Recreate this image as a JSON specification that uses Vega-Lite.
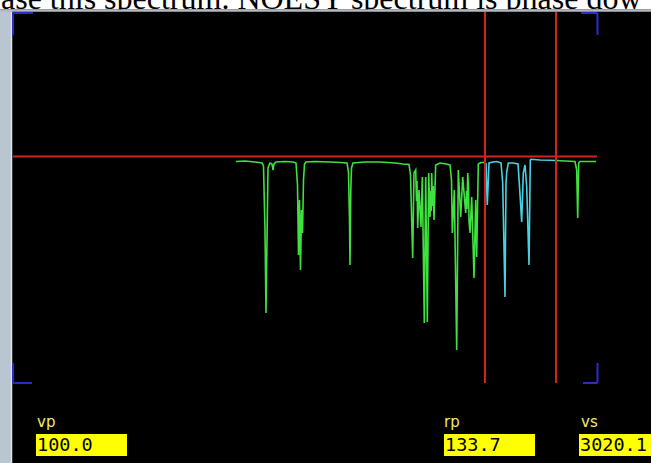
{
  "$schema": "https://vega.github.io/schema/vega-lite/v6.json",
  "width": 651,
  "height": 463,
  "autosize": {"type": "none"},
  "padding": 0,
  "background": "#000000",
  "config": {"view": {"stroke": null}, "axis": {"disable": true}},
  "datasets": {
    "caption": [{"text": "ase this spectrum. NOESY spectrum is phase dow"}],
    "spectrum": [
      {"ppm": 8.300, "intensity": -0.5, "segment": "a", "region": "full"},
      {"ppm": 8.120, "intensity": 0, "segment": "a", "region": "full"},
      {"ppm": 7.920, "intensity": -1, "segment": "a", "region": "full"},
      {"ppm": 7.780, "intensity": -2, "segment": "a", "region": "full"},
      {"ppm": 7.750, "intensity": -5, "segment": "a", "region": "full"},
      {"ppm": 7.720, "intensity": -69, "segment": "a", "region": "full"},
      {"ppm": 7.700, "intensity": -152, "segment": "a", "region": "full"},
      {"ppm": 7.680, "intensity": -79, "segment": "a", "region": "full"},
      {"ppm": 7.660, "intensity": -7, "segment": "a", "region": "full"},
      {"ppm": 7.620, "intensity": -2, "segment": "a", "region": "full"},
      {"ppm": 7.580, "intensity": -3, "segment": "a", "region": "full"},
      {"ppm": 7.560, "intensity": -9, "segment": "a", "region": "full"},
      {"ppm": 7.540, "intensity": -3, "segment": "a", "region": "full"},
      {"ppm": 7.500, "intensity": -1, "segment": "a", "region": "full"},
      {"ppm": 7.320, "intensity": -0.5, "segment": "a", "region": "full"},
      {"ppm": 7.160, "intensity": -1, "segment": "a", "region": "full"},
      {"ppm": 7.100, "intensity": -2, "segment": "a", "region": "full"},
      {"ppm": 7.070, "intensity": -24, "segment": "a", "region": "full"},
      {"ppm": 7.050, "intensity": -94, "segment": "a", "region": "full"},
      {"ppm": 7.030, "intensity": -39, "segment": "a", "region": "full"},
      {"ppm": 7.010, "intensity": -109, "segment": "a", "region": "full"},
      {"ppm": 6.990, "intensity": -49, "segment": "a", "region": "full"},
      {"ppm": 6.970, "intensity": -72, "segment": "a", "region": "full"},
      {"ppm": 6.950, "intensity": -19, "segment": "a", "region": "full"},
      {"ppm": 6.930, "intensity": -3, "segment": "a", "region": "full"},
      {"ppm": 6.900, "intensity": -1, "segment": "a", "region": "full"},
      {"ppm": 6.720, "intensity": -0.5, "segment": "a", "region": "full"},
      {"ppm": 6.420, "intensity": -1, "segment": "a", "region": "full"},
      {"ppm": 6.220, "intensity": -1.5, "segment": "a", "region": "full"},
      {"ppm": 6.080, "intensity": -2, "segment": "a", "region": "full"},
      {"ppm": 6.050, "intensity": -11, "segment": "a", "region": "full"},
      {"ppm": 6.030, "intensity": -59, "segment": "a", "region": "full"},
      {"ppm": 6.020, "intensity": -104, "segment": "a", "region": "full"},
      {"ppm": 6.004, "intensity": -29, "segment": "a", "region": "full"},
      {"ppm": 5.990, "intensity": -7, "segment": "a", "region": "full"},
      {"ppm": 5.960, "intensity": -2, "segment": "a", "region": "full"},
      {"ppm": 5.720, "intensity": -1, "segment": "a", "region": "full"},
      {"ppm": 5.420, "intensity": -1, "segment": "a", "region": "full"},
      {"ppm": 5.120, "intensity": -2, "segment": "a", "region": "full"},
      {"ppm": 4.960, "intensity": -3, "segment": "a", "region": "full"},
      {"ppm": 4.840, "intensity": -3.5, "segment": "a", "region": "full"},
      {"ppm": 4.810, "intensity": -14, "segment": "a", "region": "full"},
      {"ppm": 4.766, "intensity": -97, "segment": "a", "region": "full"},
      {"ppm": 4.740, "intensity": -12, "segment": "a", "region": "full"},
      {"ppm": 4.706, "intensity": -9, "segment": "a", "region": "full"},
      {"ppm": 4.690, "intensity": -40, "segment": "a", "region": "full"},
      {"ppm": 4.680, "intensity": -20, "segment": "a", "region": "full"},
      {"ppm": 4.666, "intensity": -67, "segment": "a", "region": "full"},
      {"ppm": 4.640, "intensity": -29, "segment": "a", "region": "full"},
      {"ppm": 4.600, "intensity": -66, "segment": "a", "region": "full"},
      {"ppm": 4.574, "intensity": -16, "segment": "a", "region": "full"},
      {"ppm": 4.534, "intensity": -162, "segment": "a", "region": "full"},
      {"ppm": 4.506, "intensity": -16, "segment": "a", "region": "full"},
      {"ppm": 4.474, "intensity": -161, "segment": "a", "region": "full"},
      {"ppm": 4.446, "intensity": -12, "segment": "a", "region": "full"},
      {"ppm": 4.420, "intensity": -56, "segment": "a", "region": "full"},
      {"ppm": 4.405, "intensity": -30, "segment": "a", "region": "full"},
      {"ppm": 4.395, "intensity": -50, "segment": "a", "region": "full"},
      {"ppm": 4.386, "intensity": -12, "segment": "a", "region": "full"},
      {"ppm": 4.370, "intensity": -45, "segment": "a", "region": "full"},
      {"ppm": 4.356, "intensity": -25, "segment": "a", "region": "full"},
      {"ppm": 4.340, "intensity": -59, "segment": "a", "region": "full"},
      {"ppm": 4.306, "intensity": -4, "segment": "a", "region": "full"},
      {"ppm": 4.220, "intensity": -2, "segment": "a", "region": "full"},
      {"ppm": 4.100, "intensity": -3, "segment": "a", "region": "full"},
      {"ppm": 4.020, "intensity": -4, "segment": "a", "region": "full"},
      {"ppm": 3.990, "intensity": -19, "segment": "a", "region": "full"},
      {"ppm": 3.974, "intensity": -72, "segment": "a", "region": "full"},
      {"ppm": 3.934, "intensity": -29, "segment": "a", "region": "full"},
      {"ppm": 3.886, "intensity": -189, "segment": "a", "region": "full"},
      {"ppm": 3.854, "intensity": -9, "segment": "a", "region": "full"},
      {"ppm": 3.806, "intensity": -56, "segment": "a", "region": "full"},
      {"ppm": 3.766, "intensity": -16, "segment": "a", "region": "full"},
      {"ppm": 3.706, "intensity": -52, "segment": "a", "region": "full"},
      {"ppm": 3.690, "intensity": -30, "segment": "a", "region": "full"},
      {"ppm": 3.680, "intensity": -48, "segment": "a", "region": "full"},
      {"ppm": 3.666, "intensity": -12, "segment": "a", "region": "full"},
      {"ppm": 3.650, "intensity": -25, "segment": "a", "region": "full"},
      {"ppm": 3.640, "intensity": -60, "segment": "a", "region": "full"},
      {"ppm": 3.620, "intensity": -72, "segment": "a", "region": "full"},
      {"ppm": 3.586, "intensity": -36, "segment": "a", "region": "full"},
      {"ppm": 3.540, "intensity": -117, "segment": "a", "region": "full"},
      {"ppm": 3.506, "intensity": -39, "segment": "a", "region": "full"},
      {"ppm": 3.486, "intensity": -96, "segment": "a", "region": "full"},
      {"ppm": 3.454, "intensity": -3, "segment": "a", "region": "full"},
      {"ppm": 3.400, "intensity": -1.5, "segment": "a", "region": "full"},
      {"ppm": 3.340, "intensity": -1.5, "segment": "a", "region": "full"},
      {"ppm": 3.300, "intensity": -2, "segment": "a", "region": "full"},
      {"ppm": 3.300, "intensity": -2, "segment": "b", "region": "selected"},
      {"ppm": 3.274, "intensity": -44, "segment": "b", "region": "selected"},
      {"ppm": 3.240, "intensity": -2, "segment": "b", "region": "selected"},
      {"ppm": 3.160, "intensity": -1, "segment": "b", "region": "selected"},
      {"ppm": 3.080, "intensity": -0.5, "segment": "b", "region": "selected"},
      {"ppm": 3.000, "intensity": -2, "segment": "b", "region": "selected"},
      {"ppm": 2.966, "intensity": -22, "segment": "b", "region": "selected"},
      {"ppm": 2.920, "intensity": -136, "segment": "b", "region": "selected"},
      {"ppm": 2.900, "intensity": -22, "segment": "b", "region": "selected"},
      {"ppm": 2.886, "intensity": -11, "segment": "b", "region": "selected"},
      {"ppm": 2.854, "intensity": -2, "segment": "b", "region": "selected"},
      {"ppm": 2.760, "intensity": -2, "segment": "b", "region": "selected"},
      {"ppm": 2.660, "intensity": -3, "segment": "b", "region": "selected"},
      {"ppm": 2.634, "intensity": -22, "segment": "b", "region": "selected"},
      {"ppm": 2.586, "intensity": -61, "segment": "b", "region": "selected"},
      {"ppm": 2.554, "intensity": -12, "segment": "b", "region": "selected"},
      {"ppm": 2.520, "intensity": -4, "segment": "b", "region": "selected"},
      {"ppm": 2.486, "intensity": -26, "segment": "b", "region": "selected"},
      {"ppm": 2.440, "intensity": -104, "segment": "b", "region": "selected"},
      {"ppm": 2.414, "intensity": 1, "segment": "b", "region": "selected"},
      {"ppm": 2.400, "intensity": 1.7, "segment": "b", "region": "selected"},
      {"ppm": 2.220, "intensity": 1, "segment": "b", "region": "selected"},
      {"ppm": 2.020, "intensity": 0.7, "segment": "b", "region": "selected"},
      {"ppm": 1.900, "intensity": 0.5, "segment": "b", "region": "selected"},
      {"ppm": 1.900, "intensity": 0.5, "segment": "c", "region": "full"},
      {"ppm": 1.720, "intensity": 0, "segment": "c", "region": "full"},
      {"ppm": 1.520, "intensity": -0.5, "segment": "c", "region": "full"},
      {"ppm": 1.486, "intensity": -9, "segment": "c", "region": "full"},
      {"ppm": 1.466, "intensity": -57, "segment": "c", "region": "full"},
      {"ppm": 1.446, "intensity": -2, "segment": "c", "region": "full"},
      {"ppm": 1.420, "intensity": -0.5, "segment": "c", "region": "full"},
      {"ppm": 1.220, "intensity": -0.5, "segment": "c", "region": "full"},
      {"ppm": 1.100, "intensity": -0.5, "segment": "c", "region": "full"}
    ],
    "threshold": [{"th": 4.5}],
    "cursors": [{"ppm": 3.32}, {"ppm": 1.90}],
    "parameters": [
      {"name": "vp", "value": "100.0"},
      {"name": "rp", "value": "133.7"},
      {"name": "vs", "value": "3020.1"}
    ]
  },
  "layer": [
    {
      "data": {"values": [{}]},
      "mark": {"type": "rect", "color": "#b9c6d2"},
      "encoding": {
        "x": {"datum": 13.02, "type": "quantitative", "axis": null, "scale": {"domain": [0, 13.02], "reverse": true, "nice": false, "zero": false}},
        "x2": {"datum": 12.80},
        "y": {"datum": 151, "type": "quantitative", "axis": null, "scale": {"domain": [-302, 161], "nice": false, "zero": false}},
        "y2": {"datum": -302}
      }
    },
    {
      "data": {"values": [{}]},
      "mark": {"type": "rule", "color": "#e2e7eb", "strokeWidth": 1.5},
      "encoding": {
        "x": {"datum": 12.79, "type": "quantitative", "axis": null, "scale": {"domain": [0, 13.02], "reverse": true, "nice": false, "zero": false}},
        "y": {"datum": 151, "type": "quantitative", "axis": null, "scale": {"domain": [-302, 161], "nice": false, "zero": false}},
        "y2": {"datum": -302}
      }
    },
    {
      "data": {"values": [{}]},
      "mark": {"type": "rect", "color": "#ffffff"},
      "encoding": {
        "x": {"datum": 13.02, "type": "quantitative", "axis": null, "scale": {"domain": [0, 13.02], "reverse": true, "nice": false, "zero": false}},
        "x2": {"datum": 0},
        "y": {"datum": 161, "type": "quantitative", "axis": null, "scale": {"domain": [-302, 161], "nice": false, "zero": false}},
        "y2": {"datum": 151.5}
      }
    },
    {
      "data": {"name": "caption"},
      "mark": {"type": "text", "align": "left", "baseline": "alphabetic", "font": "Liberation Serif", "fontSize": 32, "color": "#000000", "clip": true},
      "encoding": {
        "x": {"datum": 13.0, "type": "quantitative", "axis": null, "scale": {"domain": [0, 13.02], "reverse": true, "nice": false, "zero": false}},
        "y": {"datum": 152.5, "type": "quantitative", "axis": null, "scale": {"domain": [-302, 161], "nice": false, "zero": false}},
        "text": {"field": "text"}
      }
    },
    {
      "data": {"values": [{}]},
      "mark": {"type": "rect", "color": "#b2bac2"},
      "encoding": {
        "x": {"datum": 13.02, "type": "quantitative", "axis": null, "scale": {"domain": [0, 13.02], "reverse": true, "nice": false, "zero": false}},
        "x2": {"datum": 0},
        "y": {"datum": 151.5, "type": "quantitative", "axis": null, "scale": {"domain": [-302, 161], "nice": false, "zero": false}},
        "y2": {"datum": 149.2}
      }
    },
    {
      "data": {"values": [{}]},
      "mark": {"type": "rule", "color": "#2b2bc8", "strokeWidth": 2},
      "encoding": {
        "x": {"datum": 12.76, "type": "quantitative", "axis": null, "scale": {"domain": [0, 13.02], "reverse": true, "nice": false, "zero": false}},
        "x2": {"datum": 12.36},
        "y": {"datum": 148, "type": "quantitative", "axis": null, "scale": {"domain": [-302, 161], "nice": false, "zero": false}}
      }
    },
    {
      "data": {"values": [{}]},
      "mark": {"type": "rule", "color": "#2b2bc8", "strokeWidth": 2},
      "encoding": {
        "x": {"datum": 12.76, "type": "quantitative", "axis": null, "scale": {"domain": [0, 13.02], "reverse": true, "nice": false, "zero": false}},
        "y": {"datum": 148, "type": "quantitative", "axis": null, "scale": {"domain": [-302, 161], "nice": false, "zero": false}},
        "y2": {"datum": 126}
      }
    },
    {
      "data": {"values": [{}]},
      "mark": {"type": "rule", "color": "#2b2bc8", "strokeWidth": 2},
      "encoding": {
        "x": {"datum": 1.40, "type": "quantitative", "axis": null, "scale": {"domain": [0, 13.02], "reverse": true, "nice": false, "zero": false}},
        "x2": {"datum": 1.07},
        "y": {"datum": 148, "type": "quantitative", "axis": null, "scale": {"domain": [-302, 161], "nice": false, "zero": false}}
      }
    },
    {
      "data": {"values": [{}]},
      "mark": {"type": "rule", "color": "#2b2bc8", "strokeWidth": 2},
      "encoding": {
        "x": {"datum": 1.07, "type": "quantitative", "axis": null, "scale": {"domain": [0, 13.02], "reverse": true, "nice": false, "zero": false}},
        "y": {"datum": 148, "type": "quantitative", "axis": null, "scale": {"domain": [-302, 161], "nice": false, "zero": false}},
        "y2": {"datum": 126}
      }
    },
    {
      "data": {"values": [{}]},
      "mark": {"type": "rule", "color": "#2b2bc8", "strokeWidth": 2},
      "encoding": {
        "x": {"datum": 12.76, "type": "quantitative", "axis": null, "scale": {"domain": [0, 13.02], "reverse": true, "nice": false, "zero": false}},
        "x2": {"datum": 12.38},
        "y": {"datum": -222, "type": "quantitative", "axis": null, "scale": {"domain": [-302, 161], "nice": false, "zero": false}}
      }
    },
    {
      "data": {"values": [{}]},
      "mark": {"type": "rule", "color": "#2b2bc8", "strokeWidth": 2},
      "encoding": {
        "x": {"datum": 12.76, "type": "quantitative", "axis": null, "scale": {"domain": [0, 13.02], "reverse": true, "nice": false, "zero": false}},
        "y": {"datum": -222, "type": "quantitative", "axis": null, "scale": {"domain": [-302, 161], "nice": false, "zero": false}},
        "y2": {"datum": -202}
      }
    },
    {
      "data": {"values": [{}]},
      "mark": {"type": "rule", "color": "#2b2bc8", "strokeWidth": 2},
      "encoding": {
        "x": {"datum": 1.36, "type": "quantitative", "axis": null, "scale": {"domain": [0, 13.02], "reverse": true, "nice": false, "zero": false}},
        "x2": {"datum": 1.07},
        "y": {"datum": -222, "type": "quantitative", "axis": null, "scale": {"domain": [-302, 161], "nice": false, "zero": false}}
      }
    },
    {
      "data": {"values": [{}]},
      "mark": {"type": "rule", "color": "#2b2bc8", "strokeWidth": 2},
      "encoding": {
        "x": {"datum": 1.07, "type": "quantitative", "axis": null, "scale": {"domain": [0, 13.02], "reverse": true, "nice": false, "zero": false}},
        "y": {"datum": -222, "type": "quantitative", "axis": null, "scale": {"domain": [-302, 161], "nice": false, "zero": false}},
        "y2": {"datum": -202}
      }
    },
    {
      "data": {"name": "threshold"},
      "mark": {"type": "rule", "color": "#d42222", "strokeWidth": 2},
      "encoding": {
        "x": {"datum": 12.76, "type": "quantitative", "axis": null, "scale": {"domain": [0, 13.02], "reverse": true, "nice": false, "zero": false}},
        "x2": {"datum": 1.08},
        "y": {"field": "th", "type": "quantitative", "axis": null, "scale": {"domain": [-302, 161], "nice": false, "zero": false}}
      }
    },
    {
      "data": {"name": "spectrum"},
      "mark": {"type": "line", "strokeWidth": 1.6, "interpolate": "linear"},
      "encoding": {
        "x": {"field": "ppm", "type": "quantitative", "axis": null, "scale": {"domain": [0, 13.02], "reverse": true, "nice": false, "zero": false}},
        "y": {"field": "intensity", "type": "quantitative", "axis": null, "scale": {"domain": [-302, 161], "nice": false, "zero": false}},
        "color": {"field": "region", "type": "nominal", "legend": null, "scale": {"domain": ["full", "selected"], "range": ["#3fe03f", "#44d3e3"]}},
        "detail": {"field": "segment"}
      }
    },
    {
      "data": {"name": "cursors"},
      "mark": {"type": "rule", "color": "#d42222", "strokeWidth": 2},
      "encoding": {
        "x": {"field": "ppm", "type": "quantitative", "axis": null, "scale": {"domain": [0, 13.02], "reverse": true, "nice": false, "zero": false}},
        "y": {"datum": 149, "type": "quantitative", "axis": null, "scale": {"domain": [-302, 161], "nice": false, "zero": false}},
        "y2": {"datum": -222}
      }
    },
    {
      "data": {"name": "parameters"},
      "transform": [{"filter": "datum.name === 'vp'"}],
      "layer": [
        {
          "mark": {"type": "rect", "color": "#ffff00"},
          "encoding": {
            "x": {"datum": 12.30, "type": "quantitative", "axis": null, "scale": {"domain": [0, 13.02], "reverse": true, "nice": false, "zero": false}},
            "x2": {"datum": 10.48},
            "y": {"datum": -273, "type": "quantitative", "axis": null, "scale": {"domain": [-302, 161], "nice": false, "zero": false}},
            "y2": {"datum": -295}
          }
        },
        {
          "mark": {"type": "text", "align": "left", "baseline": "alphabetic", "font": "DejaVu Sans", "fontSize": 15, "color": "#f0ea6e"},
          "encoding": {
            "x": {"datum": 12.28, "type": "quantitative", "axis": null, "scale": {"domain": [0, 13.02], "reverse": true, "nice": false, "zero": false}},
            "y": {"datum": -266, "type": "quantitative", "axis": null, "scale": {"domain": [-302, 161], "nice": false, "zero": false}},
            "text": {"field": "name"}
          }
        },
        {
          "mark": {"type": "text", "align": "left", "baseline": "alphabetic", "font": "DejaVu Sans Mono", "fontSize": 18.5, "color": "#000000"},
          "encoding": {
            "x": {"datum": 12.28, "type": "quantitative", "axis": null, "scale": {"domain": [0, 13.02], "reverse": true, "nice": false, "zero": false}},
            "y": {"datum": -290, "type": "quantitative", "axis": null, "scale": {"domain": [-302, 161], "nice": false, "zero": false}},
            "text": {"field": "value"}
          }
        }
      ]
    },
    {
      "data": {"name": "parameters"},
      "transform": [{"filter": "datum.name === 'rp'"}],
      "layer": [
        {
          "mark": {"type": "rect", "color": "#ffff00"},
          "encoding": {
            "x": {"datum": 4.14, "type": "quantitative", "axis": null, "scale": {"domain": [0, 13.02], "reverse": true, "nice": false, "zero": false}},
            "x2": {"datum": 2.32},
            "y": {"datum": -273, "type": "quantitative", "axis": null, "scale": {"domain": [-302, 161], "nice": false, "zero": false}},
            "y2": {"datum": -295}
          }
        },
        {
          "mark": {"type": "text", "align": "left", "baseline": "alphabetic", "font": "DejaVu Sans", "fontSize": 15, "color": "#f0ea6e"},
          "encoding": {
            "x": {"datum": 4.14, "type": "quantitative", "axis": null, "scale": {"domain": [0, 13.02], "reverse": true, "nice": false, "zero": false}},
            "y": {"datum": -266, "type": "quantitative", "axis": null, "scale": {"domain": [-302, 161], "nice": false, "zero": false}},
            "text": {"field": "name"}
          }
        },
        {
          "mark": {"type": "text", "align": "left", "baseline": "alphabetic", "font": "DejaVu Sans Mono", "fontSize": 18.5, "color": "#000000"},
          "encoding": {
            "x": {"datum": 4.12, "type": "quantitative", "axis": null, "scale": {"domain": [0, 13.02], "reverse": true, "nice": false, "zero": false}},
            "y": {"datum": -290, "type": "quantitative", "axis": null, "scale": {"domain": [-302, 161], "nice": false, "zero": false}},
            "text": {"field": "value"}
          }
        }
      ]
    },
    {
      "data": {"name": "parameters"},
      "transform": [{"filter": "datum.name === 'vs'"}],
      "layer": [
        {
          "mark": {"type": "rect", "color": "#ffff00"},
          "encoding": {
            "x": {"datum": 1.44, "type": "quantitative", "axis": null, "scale": {"domain": [0, 13.02], "reverse": true, "nice": false, "zero": false}},
            "x2": {"datum": 0},
            "y": {"datum": -273, "type": "quantitative", "axis": null, "scale": {"domain": [-302, 161], "nice": false, "zero": false}},
            "y2": {"datum": -295}
          }
        },
        {
          "mark": {"type": "text", "align": "left", "baseline": "alphabetic", "font": "DejaVu Sans", "fontSize": 15, "color": "#f0ea6e"},
          "encoding": {
            "x": {"datum": 1.40, "type": "quantitative", "axis": null, "scale": {"domain": [0, 13.02], "reverse": true, "nice": false, "zero": false}},
            "y": {"datum": -266, "type": "quantitative", "axis": null, "scale": {"domain": [-302, 161], "nice": false, "zero": false}},
            "text": {"field": "name"}
          }
        },
        {
          "mark": {"type": "text", "align": "left", "baseline": "alphabetic", "font": "DejaVu Sans Mono", "fontSize": 18.5, "color": "#000000", "clip": true},
          "encoding": {
            "x": {"datum": 1.42, "type": "quantitative", "axis": null, "scale": {"domain": [0, 13.02], "reverse": true, "nice": false, "zero": false}},
            "y": {"datum": -290, "type": "quantitative", "axis": null, "scale": {"domain": [-302, 161], "nice": false, "zero": false}},
            "text": {"field": "value"}
          }
        }
      ]
    }
  ]
}
